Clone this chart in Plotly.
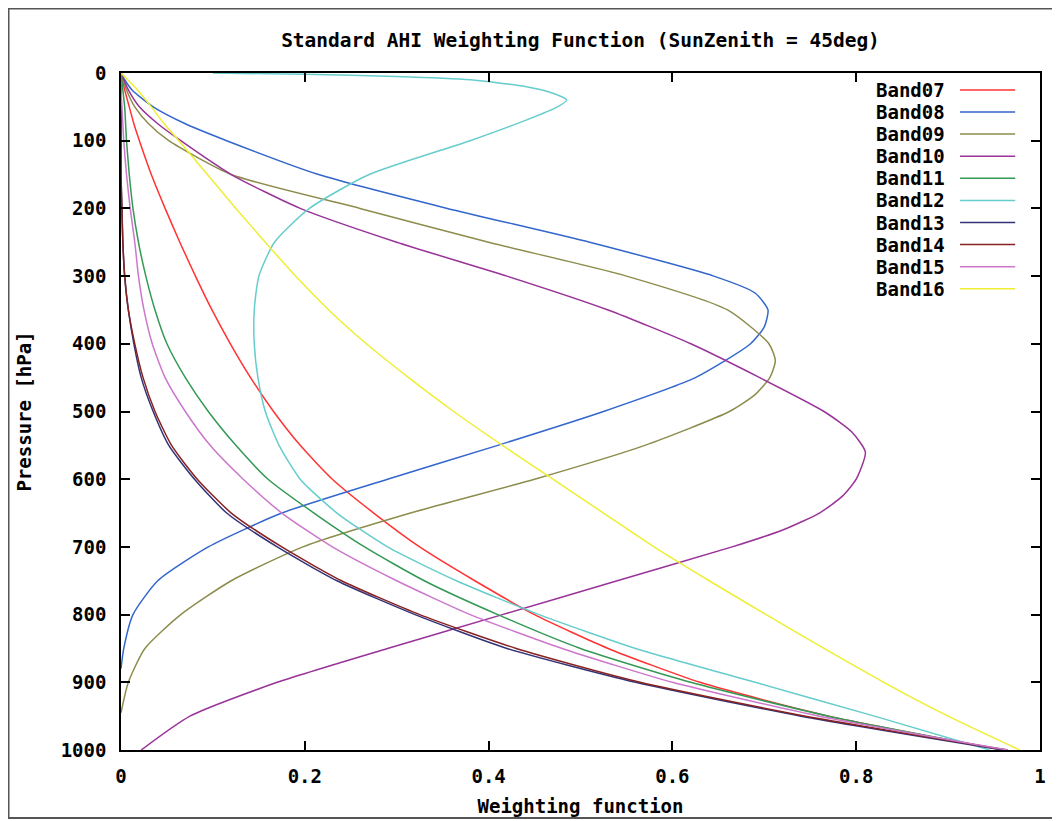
import plotly.graph_objects as go

# ---------------- data (pressure in hPa, weighting function values) ----------------
bands = ["Band07", "Band08", "Band09", "Band10", "Band11",
         "Band12", "Band13", "Band14", "Band15", "Band16"]

p_common = [0, 25, 50, 75, 100, 150, 200, 250, 300, 350, 400, 450, 500,
            550, 600, 650, 700, 750, 800, 850, 900, 950, 1000]

w_band07 = [0, 0.004, 0.009, 0.014, 0.02, 0.033, 0.048, 0.064, 0.081, 0.099, 0.119,
            0.141, 0.166, 0.195, 0.23, 0.275, 0.325, 0.385, 0.45, 0.53, 0.63, 0.77, 0.96]

p_band08 = [0, 10, 25, 50, 75, 100, 150, 200, 250, 300, 325, 350, 375, 400, 450, 500,
            550, 600, 650, 700, 750, 800, 850, 880]
w_band08 = [0, 0.004, 0.012, 0.035, 0.07, 0.115, 0.215, 0.355, 0.51, 0.645, 0.69, 0.704,
            0.70, 0.685, 0.625, 0.525, 0.41, 0.29, 0.175, 0.095, 0.04, 0.013, 0.003, 0]

p_band09 = [0, 25, 50, 75, 100, 150, 200, 250, 300, 350, 400, 425, 450, 475, 500,
            550, 600, 650, 700, 750, 800, 850, 900, 945]
w_band09 = [0, 0.006, 0.015, 0.03, 0.052, 0.12, 0.26, 0.40, 0.55, 0.66, 0.705, 0.712,
            0.706, 0.69, 0.662, 0.57, 0.45, 0.315, 0.198, 0.12, 0.065, 0.026, 0.008, 0]

p_band10 = [0, 25, 50, 75, 100, 150, 200, 250, 300, 350, 400, 450, 500, 530, 560,
            600, 625, 650, 675, 700, 750, 800, 850, 900, 950, 1000]
w_band10 = [0, 0.008, 0.02, 0.04, 0.065, 0.12, 0.195, 0.30, 0.42, 0.53, 0.62, 0.695,
            0.765, 0.795, 0.81, 0.80, 0.785, 0.76, 0.72, 0.665, 0.54, 0.415, 0.29, 0.17,
            0.075, 0.022]

w_band11 = [0, 0.002, 0.004, 0.005, 0.006, 0.009, 0.013, 0.019, 0.027, 0.037, 0.05,
            0.07, 0.095, 0.125, 0.16, 0.21, 0.265, 0.33, 0.41, 0.50, 0.62, 0.77, 0.96]

p_band12 = [0, 2, 5, 10, 20, 30, 40, 50, 70, 100, 150, 200, 250, 300, 350, 400,
            450, 500, 550, 600, 650, 700, 750, 800, 850, 900, 950, 1000]
w_band12 = [0.10, 0.2, 0.3, 0.38, 0.44, 0.47, 0.485, 0.475, 0.44, 0.38, 0.27, 0.205,
            0.167, 0.15, 0.145, 0.145, 0.149, 0.157, 0.172, 0.195, 0.235, 0.29, 0.365,
            0.455, 0.56, 0.69, 0.82, 0.945]

w_band13 = [0, 0, 0, 0, 0, 0, 0.001, 0.002, 0.004, 0.008, 0.014, 0.022, 0.035,
            0.052, 0.08, 0.115, 0.17, 0.235, 0.32, 0.42, 0.56, 0.74, 0.96]

w_band14 = [0, 0, 0, 0, 0, 0, 0.001, 0.002, 0.004, 0.008, 0.015, 0.024, 0.037,
            0.055, 0.083, 0.12, 0.175, 0.24, 0.325, 0.43, 0.565, 0.745, 0.965]

w_band15 = [0, 0, 0.001, 0.002, 0.003, 0.006, 0.01, 0.015, 0.019, 0.025, 0.034, 0.048,
            0.07, 0.097, 0.133, 0.175, 0.23, 0.30, 0.38, 0.48, 0.60, 0.76, 0.965]

w_band16 = [0, 0.018, 0.033, 0.047, 0.063, 0.094, 0.125, 0.157, 0.19, 0.226, 0.267,
            0.313, 0.362, 0.415, 0.47, 0.525, 0.58, 0.64, 0.702, 0.765, 0.83, 0.90, 0.978]

colors = ["#ff3333", "#3366cc", "#8c8c4c", "#993399", "#339955",
          "#66cccc", "#333377", "#882222", "#cc77cc", "#eeee33"]

series = [
    (p_common, w_band07), (p_band08, w_band08), (p_band09, w_band09),
    (p_band10, w_band10), (p_common, w_band11), (p_band12, w_band12),
    (p_common, w_band13), (p_common, w_band14), (p_common, w_band15),
    (p_common, w_band16),
]

FONT = "DejaVu Sans Mono"
FS = 19

fig = go.Figure()
for name, col, (pp, ww) in zip(bands, colors, series):
    fig.add_trace(go.Scatter(x=ww, y=pp, mode="lines", name=name,
                             line=dict(color=col, width=1.5, shape="spline", smoothing=0.6),
                             showlegend=False))

# manual gnuplot-style legend: label then line sample
leg_x_text = 0.899
leg_x0, leg_x1 = 0.913, 0.973
leg_y0 = 0.975
leg_dy = 0.03264
for i, (name, col) in enumerate(zip(bands, colors)):
    yy = leg_y0 - i * leg_dy
    fig.add_annotation(x=leg_x_text, y=yy, xref="paper", yref="paper", text=name,
                       showarrow=False, xanchor="right", yanchor="middle",
                       font=dict(family=FONT, size=FS, color="black", weight="bold"))
    fig.add_shape(type="line", xref="paper", yref="paper", x0=leg_x0, x1=leg_x1,
                  y0=yy, y1=yy, line=dict(color=col, width=1.5))

# outer frame
fig.add_shape(type="rect", xref="paper", yref="paper", x0=-0.1224, x1=1.04,
              y0=-0.1004, y1=1.0953, line=dict(color="#555555", width=2), layer="below")

fig.update_layout(
    width=1052, height=813,
    margin=dict(l=113, r=20, t=65, b=71),
    paper_bgcolor="white", plot_bgcolor="white",
    title=dict(text="Standard AHI Weighting Function (SunZenith = 45deg)",
               x=0.5, xref="paper", y=1 - 32 / 813, yanchor="middle",
               font=dict(family=FONT, size=19.5, color="black", weight="bold")),
    font=dict(family=FONT, size=FS, color="black", weight="bold"),
)
fig.update_xaxes(range=[0, 1], dtick=0.2, tick0=0, showgrid=False, zeroline=False,
                 showline=True, linecolor="black", linewidth=1.5, mirror="ticks",
                 ticks="inside", ticklen=9, tickcolor="black", tickwidth=1.5,
                 ticklabelstandoff=8, automargin=False,
                 title=dict(text="Weighting function", standoff=14,
                            font=dict(family=FONT, size=FS, weight="bold")),
                 tickfont=dict(family=FONT, size=FS, weight="bold"))
fig.update_yaxes(range=[1000, 0], dtick=100, tick0=0, showgrid=False, zeroline=False,
                 showline=True, linecolor="black", linewidth=1.5, mirror="ticks",
                 ticks="inside", ticklen=9, tickcolor="black", tickwidth=1.5,
                 ticklabelstandoff=9, automargin=False,
                 title=dict(text="Pressure [hPa]", standoff=24,
                            font=dict(family=FONT, size=FS, weight="bold")),
                 tickfont=dict(family=FONT, size=FS, weight="bold"))

fig.write_html("out.html")
